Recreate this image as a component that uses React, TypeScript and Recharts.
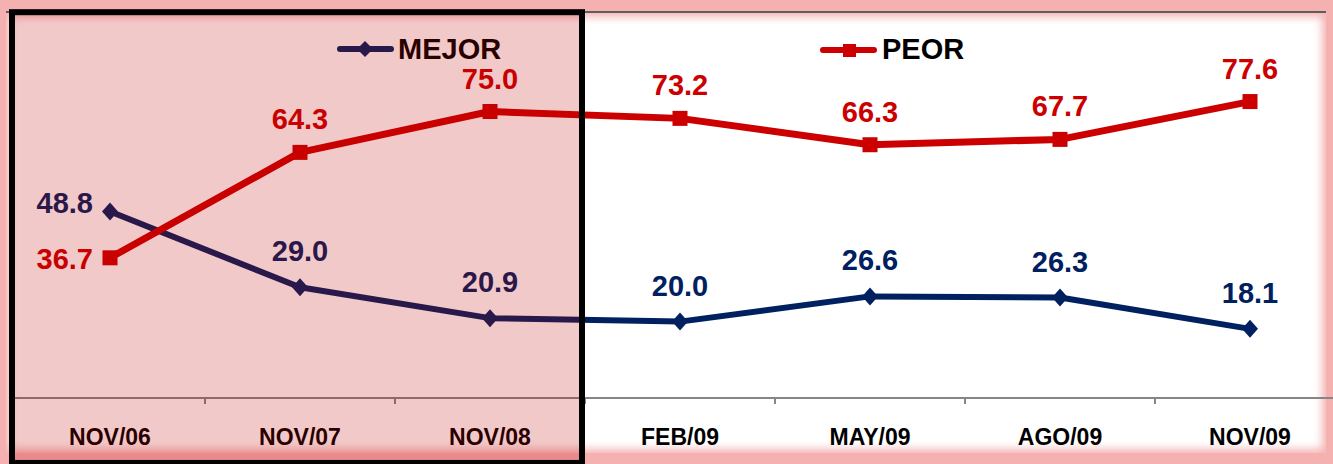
import React from 'react';
import { LineChart, Line, XAxis, YAxis, ReferenceArea, LabelList, Legend } from 'recharts';

const categories = ['NOV/06', 'NOV/07', 'NOV/08', 'FEB/09', 'MAY/09', 'AGO/09', 'NOV/09'];
const mejorValues = [48.8, 29.0, 20.9, 20.0, 26.6, 26.3, 18.1];
const peorValues = [36.7, 64.3, 75.0, 73.2, 66.3, 67.7, 77.6];
const highlightFrom = 'NOV/06';
const highlightTo = 'NOV/08';

const data = categories.map((c, i) => ({ cat: c, MEJOR: mejorValues[i], PEOR: peorValues[i] }));

const NAVY = '#002060';
const RED = '#cc0000';
const FONT = '"Liberation Sans", Arial, sans-serif';

const Diamond = (props: any) => {
  const { cx, cy } = props;
  if (cx == null || cy == null) return null;
  return <path d={`M${cx},${cy - 9} L${cx + 8},${cy} L${cx},${cy + 9} L${cx - 8},${cy} Z`} fill={NAVY} />;
};

const Square = (props: any) => {
  const { cx, cy } = props;
  if (cx == null || cy == null) return null;
  return <rect x={cx - 7.5} y={cy - 7.5} width={15} height={15} fill={RED} />;
};

const makeLabel = (color: string, firstDy: number, aboveDy: number) => (props: any) => {
  const { x, y, value, index } = props;
  if (x == null || y == null) return null;
  const txt = Number(value).toFixed(1);
  if (index === 0) {
    return (
      <text x={x - 17} y={y + firstDy} textAnchor="end" fontFamily={FONT} fontWeight="bold" fontSize={29} fill={color}>
        {txt}
      </text>
    );
  }
  return (
    <text x={x} y={y - aboveDy} textAnchor="middle" fontFamily={FONT} fontWeight="bold" fontSize={29} fill={color}>
      {txt}
    </text>
  );
};

const AxisTick = (props: any) => {
  const { x, y, payload, index } = props;
  const off = payload && payload.offset ? payload.offset : 95;
  return (
    <g>
      {index > 0 && <line x1={x - off} x2={x - off} y1={y} y2={y + 6} stroke="#868686" strokeWidth={2} />}
      <text x={x} y={y + 47} textAnchor="middle" fontFamily={FONT} fontWeight="bold" fontSize={23} fill="#000">
        {payload.value}
      </text>
    </g>
  );
};

const HighlightBox = (props: any) => {
  const { x, y, width, height } = props;
  if (x == null || y == null) return null;
  return (
    <rect
      x={x - 3}
      y={y}
      width={width}
      height={height}
      fill="#c00000"
      fillOpacity={0.21}
      stroke="#000"
      strokeWidth={6}
    />
  );
};

const legendPos: Record<string, number> = { MEJOR: 337, PEOR: 820 };

const LegendContent = (props: any) => {
  const { payload } = props;
  return (
    <div style={{ position: 'relative', width: 1333, height: 70 }}>
      {(payload || []).map((entry: any) => {
        const name = entry.value;
        const left = legendPos[name] ?? 0;
        const isPeor = name === 'PEOR';
        const color = isPeor ? RED : NAVY;
        return (
          <div key={name} style={{ position: 'absolute', left, top: 30, height: 40 }}>
            <svg width={60} height={40} style={{ position: 'absolute', left: 0, top: 0, overflow: 'visible' }}>
              <line x1={3} x2={54} y1={isPeor ? 20 : 19} y2={isPeor ? 20 : 19} stroke={color} strokeWidth={6} strokeLinecap="round" />
              {isPeor ? (
                <rect x={23} y={14} width={13} height={13} fill={color} />
              ) : (
                <path d="M28,11 L36,19 L28,27 L20,19 Z" fill={color} />
              )}
            </svg>
            <div
              style={{
                position: 'absolute',
                left: isPeor ? 62 : 61,
                top: 2,
                fontFamily: FONT,
                fontWeight: 'bold',
                fontSize: 29,
                lineHeight: '34px',
                color: '#000',
                whiteSpace: 'nowrap',
              }}
            >
              {name}
            </div>
          </div>
        );
      })}
    </div>
  );
};

export default function App() {
  return (
    <div
      style={{
        position: 'absolute',
        left: 0,
        top: 0,
        width: 1333,
        height: 464,
        overflow: 'hidden',
        zIndex: 0,
        background: '#f5b0b0',
      }}
    >
      <div
        style={{
          position: 'absolute',
          left: 6,
          top: 11,
          width: 1320,
          height: 440,
          background: '#ffffff',
          borderTop: '2px solid #5e5e5e',
          boxShadow: 'inset 0 0 9px 4px #f5b4b4',
          zIndex: -2,
        }}
      />
      <div style={{ position: 'absolute', left: 0, top: 0 }}>
        <LineChart width={1345} height={464} data={data} margin={{ top: 16, right: 0, bottom: 0, left: 15 }}>
          <XAxis
            dataKey="cat"
            scale="band"
            height={66}
            tickSize={0}
            tickMargin={0}
            tickLine={false}
            axisLine={{ stroke: '#868686', strokeWidth: 2 }}
            tick={<AxisTick />}
            interval={0}
          />
          <YAxis hide domain={[0, 100]} />
          <Legend
            layout="vertical"
            verticalAlign="middle"
            align="center"
            content={<LegendContent />}
            wrapperStyle={{ left: 0, top: 0, width: 1333, height: 70, zIndex: -1 }}
          />
          <Line
            type="linear"
            dataKey="MEJOR"
            name="MEJOR"
            stroke={NAVY}
            strokeWidth={6}
            strokeLinejoin="round"
            dot={<Diamond />}
            activeDot={false}
            isAnimationActive={false}
          >
            <LabelList dataKey="MEJOR" content={makeLabel(NAVY, 1, 26)} />
          </Line>
          <Line
            type="linear"
            dataKey="PEOR"
            name="PEOR"
            stroke={RED}
            strokeWidth={7}
            strokeLinejoin="round"
            dot={<Square />}
            activeDot={false}
            isAnimationActive={false}
          >
            <LabelList dataKey="PEOR" content={makeLabel(RED, 11, 23)} />
          </Line>
          <ReferenceArea
            x1={highlightFrom}
            x2={highlightTo}
            y1={-17}
            y2={101}
            ifOverflow="visible"
            shape={<HighlightBox />}
            zIndex={3000}
          />
        </LineChart>
      </div>
    </div>
  );
}
